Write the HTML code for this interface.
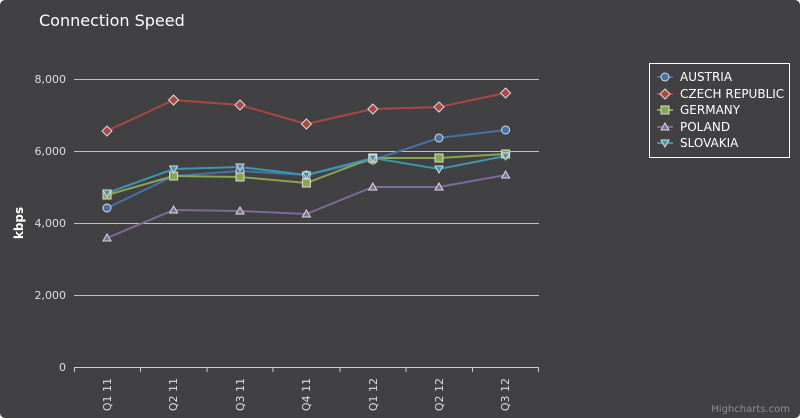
<!DOCTYPE html><html><head><style>body{margin:0;background:#fff}svg{display:block}text{font-family:"DejaVu Sans","Liberation Sans",sans-serif}</style></head><body>
<svg width="800" height="418" xmlns="http://www.w3.org/2000/svg">
<rect x="0" y="0" width="800" height="418" rx="5" fill="#414042"/>
<text x="39" y="26" fill="#fff" font-size="16">Connection Speed</text>
<g stroke="#c0c0c0" stroke-width="1">
<line x1="74" y1="79.5" x2="539" y2="79.5"/><line x1="74" y1="151.5" x2="539" y2="151.5"/><line x1="74" y1="223.5" x2="539" y2="223.5"/><line x1="74" y1="295.5" x2="539" y2="295.5"/>
</g>
<line x1="74" y1="367.5" x2="539" y2="367.5" stroke="#c0d0e0"/>
<g stroke="#c0d0e0"><line x1="74.5" y1="367" x2="74.5" y2="372"/><line x1="140.5" y1="367" x2="140.5" y2="372"/><line x1="207" y1="367" x2="207" y2="372"/><line x1="273" y1="367" x2="273" y2="372"/><line x1="340" y1="367" x2="340" y2="372"/><line x1="406" y1="367" x2="406" y2="372"/><line x1="472.5" y1="367" x2="472.5" y2="372"/><line x1="538.5" y1="367" x2="538.5" y2="372"/></g>
<g fill="#ddd" font-size="11" text-anchor="end">
<text x="66" y="83">8,000</text><text x="66" y="155">6,000</text><text x="66" y="227">4,000</text><text x="66" y="299">2,000</text><text x="66" y="371">0</text></g>
<text transform="translate(23,223) rotate(-90)" fill="#fff" font-size="12" font-weight="bold" text-anchor="middle">kbps</text>
<g fill="#ddd" font-size="11" text-anchor="end">
<text transform="translate(111,378) rotate(-90)">Q1 11</text><text transform="translate(177,378) rotate(-90)">Q2 11</text><text transform="translate(244,378) rotate(-90)">Q3 11</text><text transform="translate(310,378) rotate(-90)">Q4 11</text><text transform="translate(377,378) rotate(-90)">Q1 12</text><text transform="translate(443,378) rotate(-90)">Q2 12</text><text transform="translate(509,378) rotate(-90)">Q3 12</text></g>
<g fill="none" stroke-width="2">
<polyline stroke="#aa4643" points="107,131 173.6,100 240,105 306.4,124 372.8,109 439,107 505.6,93"/>
<polyline stroke="#4572a7" points="107,208 173.6,176 240,171 306.4,175 372.8,160 439,138 505.6,130"/>
<polyline stroke="#89a54e" points="107,195 173.6,176 240,177 306.4,183 372.8,158 439,158 505.6,154"/>
<polyline stroke="#80699b" points="107,238 173.6,210 240,211 306.4,214 372.8,187 439,187 505.6,175"/>
<polyline stroke="#3d96ae" points="107,193 173.6,169 240,167 306.4,175 372.8,158 439,169 505.6,156"/>
</g>
<g stroke="#ddd" stroke-width="1">
<g fill="#aa4643"><path d="M107,126l5,5l-5,5l-5,-5z"/><path d="M173.6,95l5,5l-5,5l-5,-5z"/><path d="M240,100l5,5l-5,5l-5,-5z"/><path d="M306.4,119l5,5l-5,5l-5,-5z"/><path d="M372.8,104l5,5l-5,5l-5,-5z"/><path d="M439,102l5,5l-5,5l-5,-5z"/><path d="M505.6,88l5,5l-5,5l-5,-5z"/></g>
<g fill="#4572a7"><circle cx="107" cy="208" r="4"/><circle cx="173.6" cy="176" r="4"/><circle cx="240" cy="171" r="4"/><circle cx="306.4" cy="175" r="4"/><circle cx="372.8" cy="160" r="4"/><circle cx="439" cy="138" r="4"/><circle cx="505.6" cy="130" r="4"/></g>
<g fill="#89a54e"><rect x="103" y="191" width="8" height="8"/><rect x="169.6" y="172" width="8" height="8"/><rect x="236" y="173" width="8" height="8"/><rect x="302.4" y="179" width="8" height="8"/><rect x="368.8" y="154" width="8" height="8"/><rect x="435" y="154" width="8" height="8"/><rect x="501.6" y="150" width="8" height="8"/></g>
<g fill="#80699b"><path d="M107,234l4,7h-8z"/><path d="M173.6,206l4,7h-8z"/><path d="M240,207l4,7h-8z"/><path d="M306.4,210l4,7h-8z"/><path d="M372.8,183l4,7h-8z"/><path d="M439,183l4,7h-8z"/><path d="M505.6,171l4,7h-8z"/></g>
<g fill="#3d96ae"><path d="M103,190h8l-4,7z"/><path d="M169.6,166h8l-4,7z"/><path d="M236,164h8l-4,7z"/><path d="M302.4,172h8l-4,7z"/><path d="M368.8,155h8l-4,7z"/><path d="M435,166h8l-4,7z"/><path d="M501.6,153h8l-4,7z"/></g>
</g>
<rect x="649.5" y="63.5" width="140" height="94" fill="none" stroke="#fff" stroke-width="1"/>
<g stroke-width="2"><line x1="657" y1="77" x2="673" y2="77" stroke="#4572a7"/><line x1="657" y1="94" x2="673" y2="94" stroke="#aa4643"/><line x1="657" y1="110" x2="673" y2="110" stroke="#89a54e"/><line x1="657" y1="127" x2="673" y2="127" stroke="#80699b"/><line x1="657" y1="143" x2="673" y2="143" stroke="#3d96ae"/></g>
<g stroke="#ddd"><circle cx="665" cy="77" r="4" fill="#4572a7"/><path d="M665,89l5,5l-5,5l-5,-5z" fill="#aa4643"/><rect x="661" y="106" width="8" height="8" fill="#89a54e"/><path d="M665,123l4,7h-8z" fill="#80699b"/><path d="M661,140h8l-4,7z" fill="#3d96ae"/></g>
<g fill="#fff" font-size="12"><text x="680" y="81">AUSTRIA</text><text x="680" y="98">CZECH REPUBLIC</text><text x="680" y="114">GERMANY</text><text x="680" y="131">POLAND</text><text x="680" y="147">SLOVAKIA</text></g>
<text x="790" y="412" fill="#909090" font-size="10" text-anchor="end">Highcharts.com</text>
</svg></body></html>
